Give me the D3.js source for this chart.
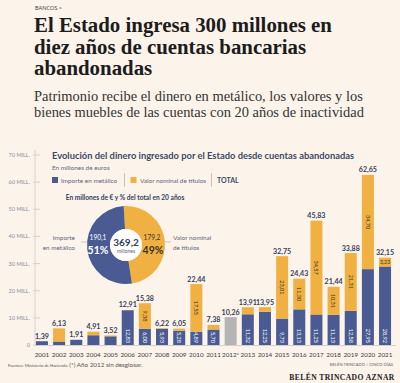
<!DOCTYPE html>
<html><head><meta charset="utf-8">
<script src="https://cdn.jsdelivr.net/npm/d3@7"></script>
<style>
html,body{margin:0;padding:0;background:#fcf3ea;}
svg{display:block;}
</style></head>
<body><svg id="c" width="400" height="383"></svg>
<script>
const years = ["2001","2002","2003","2004","2005","2006","2007","2008","2009","2010","2011","2012*","2013","2014","2015","2016","2017","2018","2019","2020","2021"];
const metalico = [1.39,1.30,1.91,3.60,3.20,12.83,6.00,5.93,5.28,4.89,5.70,0,11.32,12.25,9.73,13.13,11.25,11.13,12.58,27.95,28.92];
const titulos  = [0,4.83,0,1.31,0.32,0.08,9.38,0.29,0.77,17.55,1.68,0,2.59,1.70,23.01,11.30,34.57,10.31,21.31,34.70,3.23];
const sinDesglose = [0,0,0,0,0,0,0,0,0,0,0,10.26,0,0,0,0,0,0,0,0,0];
const totals = [1.39,6.13,1.91,4.91,3.52,12.91,15.38,6.22,6.05,22.44,7.38,10.26,13.91,13.95,32.75,24.43,45.83,21.44,33.88,62.65,32.15];
const metalicoLabelYears = ["2006","2007","2008","2009","2010","2011","2013","2014","2015","2016","2017","2018","2019","2020","2021"];
const titulosLabelYears = ["2007","2010","2015","2016","2017","2018","2019","2020","2021"];
const yTicks = [0,10,20,30,40,50,60,70];
const yTickLabels = ["0","10 MILL.","20 MILL.","30 MILL.","40 MILL.","50 MILL.","60 MILL.","70 MILL."];
const donutNames = ["Valor nominal de títulos","Importe en metálico"];
const donutValues = [179.2,190.1];
const donutPct = ["49%","51%"];
const donutTotal = "369,2";

const BLUE="#4a5b94", ORANGE="#f1b142", GREY="#b4b4b4", DARK="#34405a", MUTED="#5d6677";
const SERIF="'Liberation Serif','DejaVu Serif',serif", SANS="Lato,'Open Sans',sans-serif";
const fmt = v => d3.format(".2f")(v).replace(".", ",");

const svg = d3.select("#c");
svg.append("rect").attr("width",400).attr("height",383).attr("fill","#fcf3ea");

function fit(t, w){ const l=t.node().getComputedTextLength(); const fs=parseFloat(t.attr("font-size")); t.attr("font-size", fs*w/l); return t; }

// header
svg.append("text").attr("x",35).attr("y",10).attr("font-family",SANS).attr("font-size",5.5).attr("fill","#444").text("BANCOS >");
const titleLines=["El Estado ingresa 300 millones en","diez años de cuentas bancarias","abandonadas"];
const tl = svg.append("g");
let t0 = tl.append("text").attr("x",34).attr("y",32).attr("font-family",SERIF).attr("font-weight","bold").attr("font-size",20).attr("fill","#1c1c1c").text(titleLines[0]);
fit(t0, 298);
const tfs = t0.attr("font-size");
titleLines.slice(1).forEach((s,i)=>tl.append("text").attr("x",34).attr("y",53.5+i*21).attr("font-family",SERIF).attr("font-weight","bold").attr("font-size",tfs).attr("fill","#1c1c1c").text(s));
const subLines=["Patrimonio recibe el dinero en metálico, los valores y los","bienes muebles de las cuentas con 20 años de inactividad"];
let s0 = svg.append("text").attr("x",34).attr("y",101).attr("font-family",SERIF).attr("font-size",14).attr("fill","#333").text(subLines[0]);
fit(s0, 329);
svg.append("text").attr("x",34).attr("y",116.5).attr("font-family",SERIF).attr("font-size",s0.attr("font-size")).attr("fill","#333").text(subLines[1]);

// scales
const y = d3.scaleLinear().domain([0,70]).range([345,155]);
const x = d3.scaleBand().domain(years).range([30.8,396.2]).paddingInner(0.3).paddingOuter(0.3);

// y axis
const ya = svg.append("g");
ya.append("line").attr("x1",35).attr("x2",35).attr("y1",150).attr("y2",345).attr("stroke","#d0ccc6").attr("stroke-width",0.8);
yTicks.forEach((v,i)=>{
  ya.append("line").attr("x1",33).attr("x2",40).attr("y1",y(v)).attr("y2",y(v)).attr("stroke","#cfcac4").attr("stroke-width",0.8);
  ya.append("text").attr("x",30).attr("y",y(v)+2).attr("text-anchor","end").attr("font-family",SANS).attr("font-size",5.5).attr("fill","#8a8f99").text(yTickLabels[i]);
});
svg.append("line").attr("x1",35).attr("x2",396).attr("y1",345.5).attr("y2",345.5).attr("stroke","#c9c4be").attr("stroke-width",0.8);

// bars
const g = svg.append("g");
years.forEach((yr,i)=>{
  const bx = x(yr), bw = x.bandwidth();
  if (sinDesglose[i]>0){
    g.append("rect").attr("x",bx).attr("width",bw).attr("y",y(sinDesglose[i])).attr("height",y(0)-y(sinDesglose[i])).attr("fill",GREY);
  }
  if (metalico[i]>0) g.append("rect").attr("x",bx).attr("width",bw).attr("y",y(metalico[i])).attr("height",y(0)-y(metalico[i])).attr("fill",BLUE);
  if (titulos[i]>0) g.append("rect").attr("x",bx).attr("width",bw).attr("y",y(metalico[i]+titulos[i])).attr("height",y(metalico[i])-y(metalico[i]+titulos[i])).attr("fill",ORANGE);
  g.append("text").attr("x",bx+bw/2).attr("y",y(totals[i])-2.5).attr("text-anchor","middle").attr("font-family",SANS).attr("font-weight","bold").attr("font-size",7.1).attr("fill",DARK).text(fmt(totals[i]));
  g.append("text").attr("x",bx+bw/2).attr("y",356.5).attr("text-anchor","middle").attr("font-family",SANS).attr("font-size",6.3).attr("fill","#3d3d3d").text(yr);
  const cx = bx+bw/2;
  if (metalicoLabelYears.includes(yr)){
    g.append("text").attr("transform",`translate(${cx-2.2},${y(0)-2}) rotate(90)`).attr("text-anchor","end").attr("font-family",SANS).attr("font-size",5.6).attr("fill","#fff").text(fmt(metalico[i]));
  }
  if (titulosLabelYears.includes(yr)){
    const mid = (y(metalico[i])+y(metalico[i]+titulos[i]))/2;
    if (titulos[i] > 5){
      g.append("text").attr("transform",`translate(${cx-2.2},${mid}) rotate(90)`).attr("text-anchor","middle").attr("font-family",SANS).attr("font-size",5.6).attr("fill","#3b3526").text(fmt(titulos[i]));
    } else {
      g.append("text").attr("x",cx).attr("y",mid+2).attr("text-anchor","middle").attr("font-family",SANS).attr("font-size",5.2).attr("fill","#3b3526").text(fmt(titulos[i]));
    }
  }
});

// inner chart heading & legend
svg.append("text").attr("x",52).attr("y",158.5).attr("font-family",SANS).attr("font-weight","bold").attr("font-size",9.35).attr("fill","#3c4a66").text("Evolución del dinero ingresado por el Estado desde cuentas abandonadas");
svg.append("text").attr("x",52).attr("y",169.5).attr("font-family",SANS).attr("font-size",6.4).attr("fill",MUTED).text("En millones de euros");
const lg = svg.append("g");
lg.append("rect").attr("x",52).attr("y",177).attr("width",6).attr("height",6).attr("fill",BLUE);
lg.append("text").attr("x",61).attr("y",182.5).attr("font-family",SANS).attr("font-size",6.4).attr("fill",MUTED).text("Importe en metálico");
lg.append("line").attr("x1",124.5).attr("x2",124.5).attr("y1",173).attr("y2",187).attr("stroke","#b9b4ad").attr("stroke-width",0.8);
lg.append("rect").attr("x",130.5).attr("y",177).attr("width",6).attr("height",6).attr("fill",ORANGE);
lg.append("text").attr("x",140).attr("y",182.5).attr("font-family",SANS).attr("font-size",6.4).attr("fill",MUTED).text("Valor nominal de títulos");
lg.append("line").attr("x1",211.5).attr("x2",211.5).attr("y1",173).attr("y2",187).attr("stroke","#b9b4ad").attr("stroke-width",0.8);
lg.append("text").attr("x",217).attr("y",182.8).attr("font-family",SANS).attr("font-weight","bold").attr("font-size",7).attr("fill","#3c4a66").text("TOTAL");

// donut
const dg = svg.append("g").attr("transform","translate(126,245)");
svg.append("text").attr("x",125).attr("y",199.5).attr("text-anchor","middle").attr("font-family",SANS).attr("font-weight","bold").attr("font-size",6.6).attr("fill","#34405a").text("En millones de € y % del total en 20 años");
const pie = d3.pie().sort(null).startAngle(-0.06).endAngle(2*Math.PI-0.06);
const arc = d3.arc().innerRadius(16).outerRadius(39);
const arcs = pie(donutValues);
dg.selectAll("path").data(arcs).join("path").attr("d",arc).attr("fill",(d,i)=>i===0?ORANGE:BLUE);
dg.append("circle").attr("r",16).attr("fill","#fff");
dg.append("text").attr("y",1).attr("text-anchor","middle").attr("font-family",SANS).attr("font-weight","bold").attr("font-size",10).attr("fill","#34405a").text(donutTotal);
dg.append("text").attr("y",8).attr("text-anchor","middle").attr("font-family",SANS).attr("font-size",5).attr("fill","#5b6272").text("millones");
dg.append("text").attr("x",-28).attr("y",-5).attr("text-anchor","middle").attr("font-family",SANS).attr("font-size",6.6).attr("fill","#fff").text(d3.format(".1f")(donutValues[1]).replace(".",","));
dg.append("text").attr("x",-28).attr("y",8.5).attr("text-anchor","middle").attr("font-family",SANS).attr("font-weight","bold").attr("font-size",10.5).attr("fill","#fff").text(donutPct[1]);
dg.append("text").attr("x",26).attr("y",-5).attr("text-anchor","middle").attr("font-family",SANS).attr("font-size",6.6).attr("fill","#3a3424").text(d3.format(".1f")(donutValues[0]).replace(".",","));
dg.append("text").attr("x",27).attr("y",8.5).attr("text-anchor","middle").attr("font-family",SANS).attr("font-weight","bold").attr("font-size",10.5).attr("fill","#3a3424").text(donutPct[0]);
// side labels
dg.append("line").attr("x1",-45).attr("x2",-39).attr("y1",-3).attr("y2",-3).attr("stroke","#b9b4ad").attr("stroke-width",0.7);
dg.append("line").attr("x1",39).attr("x2",45).attr("y1",-3).attr("y2",-3).attr("stroke","#b9b4ad").attr("stroke-width",0.7);
dg.append("text").attr("x",-51).attr("y",-5).attr("text-anchor","end").attr("font-family",SANS).attr("font-size",6.4).attr("fill",MUTED).text("Importe");
dg.append("text").attr("x",-51).attr("y",5).attr("text-anchor","end").attr("font-family",SANS).attr("font-size",6.4).attr("fill",MUTED).text("en metálico");
dg.append("text").attr("x",47).attr("y",-5).attr("font-family",SANS).attr("font-size",6.4).attr("fill",MUTED).text("Valor nominal");
dg.append("text").attr("x",47).attr("y",5).attr("font-family",SANS).attr("font-size",6.4).attr("fill",MUTED).text("de títulos");

// footer
const ft = svg.append("text").attr("x",8).attr("y",366.5).attr("font-family",SANS).attr("fill","#555");
ft.append("tspan").attr("font-size",4.2).text("Fuentes: Ministerio de Hacienda. ");
ft.append("tspan").attr("font-size",6.3).text("(*) Año 2012 sin desglosar.");
svg.append("text").attr("x",393).attr("y",366).attr("text-anchor","end").attr("font-family",SANS).attr("font-size",4.2).attr("fill","#666").text("BELÉN TRINCADO / CINCO DÍAS");
svg.append("text").attr("x",342).attr("y",380).attr("text-anchor","middle").attr("font-family",SERIF).attr("font-weight","bold").attr("font-size",7.6).attr("letter-spacing",0.4).attr("fill","#222").text("BELÉN TRINCADO AZNAR");
</script></body></html>
